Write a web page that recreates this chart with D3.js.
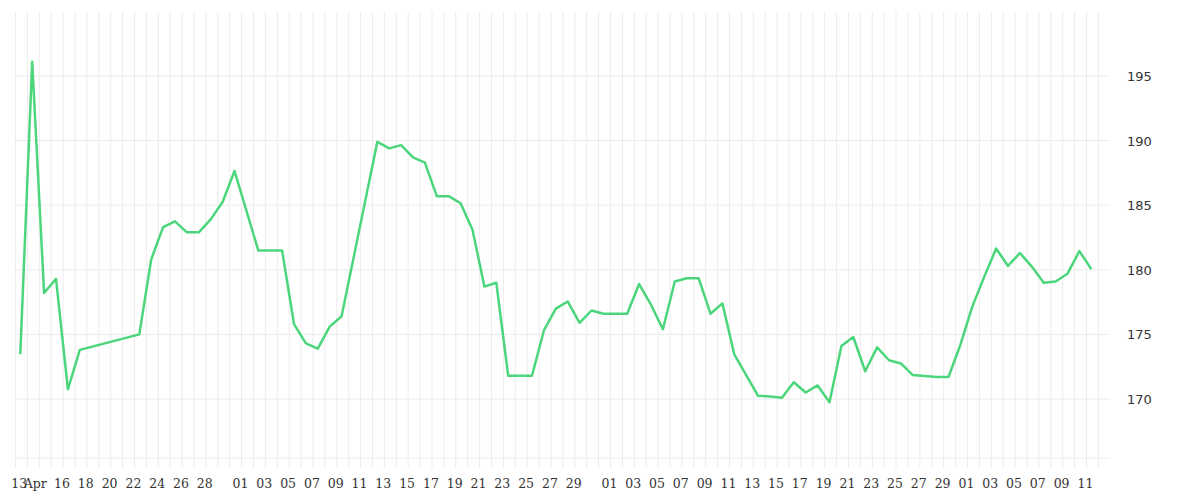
<!DOCTYPE html>
<html>
<head>
<meta charset="utf-8">
<script src="https://cdn.jsdelivr.net/npm/d3@7"></script>
<style>
  body { margin: 0; background: #fff; }
</style>
</head>
<body>
<div id="chart"></div>
<script>
// Price series (dates with trading data only)
const dates = [
  '2024-04-13','2024-04-14','2024-04-15','2024-04-16','2024-04-17','2024-04-18',
  '2024-04-23','2024-04-24','2024-04-25','2024-04-26','2024-04-27','2024-04-28','2024-04-29','2024-04-30',
  '2024-05-01','2024-05-03','2024-05-05','2024-05-06','2024-05-07','2024-05-08','2024-05-09','2024-05-10',
  '2024-05-13','2024-05-14','2024-05-15','2024-05-16','2024-05-17','2024-05-18','2024-05-19','2024-05-20',
  '2024-05-21','2024-05-22','2024-05-23','2024-05-24','2024-05-26','2024-05-27','2024-05-28','2024-05-29',
  '2024-05-30','2024-05-31','2024-06-01','2024-06-03','2024-06-04','2024-06-05','2024-06-06','2024-06-07',
  '2024-06-08','2024-06-09','2024-06-10','2024-06-11','2024-06-12','2024-06-14','2024-06-15','2024-06-16',
  '2024-06-17','2024-06-18','2024-06-19','2024-06-20','2024-06-21','2024-06-22','2024-06-23','2024-06-24',
  '2024-06-25','2024-06-26','2024-06-27','2024-06-29','2024-06-30','2024-07-01','2024-07-02','2024-07-03',
  '2024-07-04','2024-07-05','2024-07-06','2024-07-07','2024-07-08','2024-07-09','2024-07-10','2024-07-11',
  '2024-07-12'
]
const values = [
  173.46, 196.1, 178.2, 179.3, 170.75, 173.8,
  175.0, 180.8, 183.3, 183.75, 182.9, 182.9, 183.9, 185.25,
  187.65, 181.5, 181.5, 175.8, 174.3, 173.9, 175.6, 176.4,
  189.9, 189.4, 189.65, 188.7, 188.3, 185.7, 185.7, 185.15,
  183.1, 178.7, 179.0, 171.8, 171.8, 175.3, 177.0, 177.55,
  175.9, 176.85, 176.6, 176.6, 178.9, 177.3, 175.4, 179.1,
  179.35, 179.35, 176.6, 177.4, 173.45, 170.25, 170.2, 170.1,
  171.3, 170.5, 171.05, 169.75, 174.1, 174.8, 172.15, 174.0,
  173.0, 172.75, 171.85, 171.7, 171.7, 174.2, 177.15, 179.45,
  181.65, 180.3, 181.3, 180.25, 179.0, 179.1, 179.7, 181.45,
  180.05
]
const yTicks = [170, 175, 180, 185, 190, 195]
const xTickDates = [
  '2024-04-13','2024-04-14','2024-04-16','2024-04-18','2024-04-20','2024-04-22','2024-04-24','2024-04-26','2024-04-28',
  '2024-05-01','2024-05-03','2024-05-05','2024-05-07','2024-05-09','2024-05-11','2024-05-13','2024-05-15',
  '2024-05-17','2024-05-19','2024-05-21','2024-05-23','2024-05-25','2024-05-27','2024-05-29',
  '2024-06-01','2024-06-03','2024-06-05','2024-06-07','2024-06-09','2024-06-11','2024-06-13','2024-06-15',
  '2024-06-17','2024-06-19','2024-06-21','2024-06-23','2024-06-25','2024-06-27','2024-06-29',
  '2024-07-01','2024-07-03','2024-07-05','2024-07-07','2024-07-09','2024-07-11'
]
const xTickLabels = [
  '13','Apr','16','18','20','22','24','26','28',
  '01','03','05','07','09','11','13','15','17','19','21','23','25','27','29',
  '01','03','05','07','09','11','13','15','17','19','21','23','25','27','29',
  '01','03','05','07','09','11'
]

const width = 1200
const height = 500
const parse = d3.utcParse('%Y-%m-%d')
const data = dates.map((d, i) => ({ date: parse(d), value: values[i] }))

const start = parse('2024-04-13')
const end = parse('2024-07-12')
const x = d3.scaleUtc().domain([start, end]).range([20.3, 20.3 + 90 * 11.9])
const y = d3.scaleLinear().domain([170, 195]).range([399, 76])

const plotLeft = 15.5, plotRight = 1110, plotTop = 12, plotBottom = 458

const svg = d3.select('#chart').append('svg').attr('width', width).attr('height', height)

// Vertical grid, one line per day
const gridDays = d3.utcDay.range(start, d3.utcDay.offset(end, 2))
svg.append('g')
  .selectAll('line')
  .data(gridDays)
  .join('line')
  .attr('x1', d => x(d) - 4.8)
  .attr('x2', d => x(d) - 4.8)
  .attr('y1', plotTop)
  .attr('y2', plotBottom + 10)
  .attr('stroke', '#ececec')
  .attr('stroke-width', 1)

// Horizontal grid
svg.append('g')
  .selectAll('line')
  .data(yTicks)
  .join('line')
  .attr('x1', plotLeft)
  .attr('x2', plotRight)
  .attr('y1', d => y(d))
  .attr('y2', d => y(d))
  .attr('stroke', '#ececec')

svg.append('line')
  .attr('x1', plotLeft).attr('x2', plotRight)
  .attr('y1', plotBottom).attr('y2', plotBottom)
  .attr('stroke', '#ececec')

// Y labels on the right
svg.append('g')
  .selectAll('text')
  .data(yTicks)
  .join('text')
  .attr('x', 1127)
  .attr('y', d => y(d) + 5)
  .attr('font-family', 'DejaVu Sans, sans-serif')
  .attr('font-size', '13px')
  .attr('fill', '#333')
  .text(d => d)

// X labels
svg.append('g')
  .selectAll('text')
  .data(xTickDates)
  .join('text')
  .attr('x', (d, i) => x(parse(d)) + (i === 0 ? -1 : i === 1 ? 3 : 6))
  .attr('y', 488)
  .attr('text-anchor', 'middle')
  .attr('font-family', 'DejaVu Serif, serif')
  .attr('font-size', '12.5px')
  .attr('fill', '#333')
  .text((d, i) => xTickLabels[i])

// Price line
const line = d3.line().x(d => x(d.date)).y(d => y(d.value))
svg.append('path')
  .datum(data)
  .attr('d', line)
  .attr('fill', 'none')
  .attr('stroke', '#4cd67c')
  .attr('stroke-width', 2.5)
  .attr('stroke-linejoin', 'round')
</script>
</body>
</html>
